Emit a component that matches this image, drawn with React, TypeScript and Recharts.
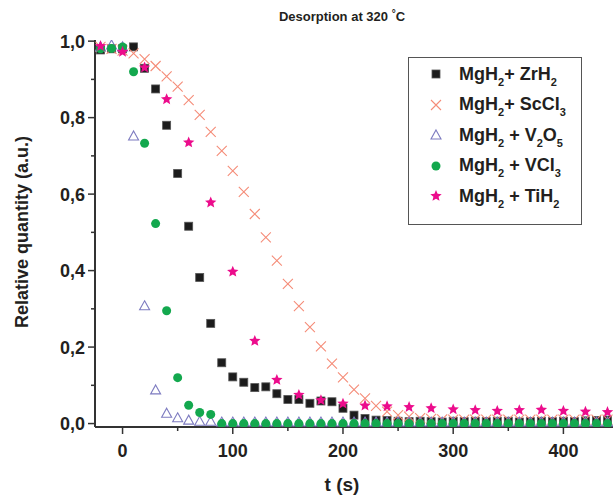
import React from 'react';
import { ScatterChart, Scatter, XAxis, YAxis, Legend } from 'recharts';

// desorption curves, relative quantity vs time (s)
const zrTimes = [-20, -10, 0, 10, 20, 30, 40, 50, 60, 70, 80, 90, 100, 110, 120, 130, 140, 150, 160, 170, 180, 190, 200, 210, 220, 230, 240, 250, 260, 270, 280, 290, 300, 310, 320, 330, 340, 350, 360, 370, 380, 390, 400, 410, 420, 430, 440];
const zrValues = [0.977, 0.98, 0.98, 0.985, 0.929, 0.875, 0.78, 0.654, 0.516, 0.382, 0.262, 0.159, 0.122, 0.108, 0.094, 0.096, 0.078, 0.063, 0.063, 0.053, 0.059, 0.057, 0.04, 0.022, 0.013, 0.009, 0.008, 0.006, 0.005, 0.006, 0.005, 0.004, 0.006, 0.005, 0.006, 0.005, 0.006, 0.006, 0.004, 0.005, 0.006, 0.005, 0.006, 0.005, 0.007, 0.008, 0.009];

const scTimes = [-20, -10, 0, 10, 20, 30, 40, 50, 60, 70, 80, 90, 100, 110, 120, 130, 140, 150, 160, 170, 180, 190, 200, 210, 220, 230, 240, 250, 260, 270, 280, 290, 300, 310, 320, 330, 340, 350, 360, 370, 380, 390, 400, 410, 420, 430, 440];
const scValues = [0.985, 0.98, 0.975, 0.968, 0.953, 0.935, 0.908, 0.881, 0.846, 0.807, 0.763, 0.713, 0.661, 0.606, 0.548, 0.487, 0.426, 0.365, 0.307, 0.252, 0.202, 0.157, 0.121, 0.089, 0.066, 0.046, 0.031, 0.022, 0.018, 0.014, 0.012, 0.011, 0.01, 0.01, 0.01, 0.01, 0.01, 0.01, 0.01, 0.01, 0.01, 0.01, 0.01, 0.01, 0.01, 0.01, 0.01];

const voTimes = [-20, -10, 0, 10, 20, 30, 40, 50, 60, 70, 80, 90, 100, 110, 120, 130, 140, 150, 160, 170, 180, 190, 200, 210, 220, 230, 240, 250, 260, 270, 280, 290, 300, 310, 320, 330, 340, 350, 360, 370, 380, 390, 400, 410, 420, 430, 440];
const voValues = [0.985, 0.99, 0.985, 0.752, 0.308, 0.088, 0.027, 0.015, 0.009, 0.006, 0.006, 0.004, 0.004, 0.004, 0.004, 0.004, 0.004, 0.004, 0.004, 0.004, 0.004, 0.004, 0.004, 0.004, 0.004, 0.004, 0.004, 0.004, 0.004, 0.004, 0.004, 0.004, 0.004, 0.004, 0.004, 0.004, 0.004, 0.004, 0.004, 0.004, 0.004, 0.004, 0.004, 0.004, 0.004, 0.004, 0.004];

const vcTimes = [-20, -10, 0, 10, 20, 30, 40, 50, 60, 70, 80, 90, 100, 110, 120, 130, 140, 150, 160, 170, 180, 190, 200, 210, 220, 230, 240, 250, 260, 270, 280, 290, 300, 310, 320, 330, 340, 350, 360, 370, 380, 390, 400, 410, 420, 430, 440];
const vcValues = [0.98, 0.981, 0.985, 0.92, 0.733, 0.523, 0.295, 0.12, 0.048, 0.029, 0.024, 0, 0, 0, 0, 0, 0, 0, 0, 0, 0, 0, 0, 0, 0, 0, 0, 0, 0, 0, 0, 0, 0, 0, 0, 0, 0, 0, 0, 0, 0, 0, 0, 0, 0, 0, 0];

const tiTimes = [-20, 0, 20, 40, 60, 80, 100, 120, 140, 160, 180, 200, 220, 240, 260, 280, 300, 320, 340, 360, 380, 400, 420, 440];
const tiValues = [0.987, 0.972, 0.931, 0.848, 0.735, 0.578, 0.397, 0.216, 0.114, 0.075, 0.061, 0.052, 0.047, 0.045, 0.043, 0.04, 0.037, 0.035, 0.033, 0.035, 0.036, 0.033, 0.031, 0.03];

const xTicks = [0, 50, 100, 150, 200, 250, 300, 350, 400];
const xMajor = [0, 100, 200, 300, 400];
const yTicks = [0, 0.1, 0.2, 0.3, 0.4, 0.5, 0.6, 0.7, 0.8, 0.9, 1.0];
const yMajor = [0, 0.2, 0.4, 0.6, 0.8, 1.0];

const W = 613;
const H = 498;
const MARGIN = { top: 40, right: 0, left: 35, bottom: 31 };
const Y_WIDTH = 60;
const X_HEIGHT = 40;
const AXIS_X = MARGIN.left + Y_WIDTH;
const AXIS_Y = H - MARGIN.bottom - X_HEIGHT;
const INK = '#231f20';
const FONT = '"Liberation Sans", Arial, sans-serif';

const toPoints = (ts: number[], vs: number[]) => ts.map((t, i) => ({ t, v: vs[i] }));

const Square = (p: any) => (
  <rect x={p.cx - 4} y={p.cy - 4} width={8} height={8} fill="#1c1c1c" stroke="#555" strokeWidth={0.8} />
);
const Cross = (p: any) => (
  <path d={`M${p.cx - 5},${p.cy - 5}L${p.cx + 5},${p.cy + 5}M${p.cx - 5},${p.cy + 5}L${p.cx + 5},${p.cy - 5}`} stroke="#f58c78" strokeWidth={1.1} fill="none" />
);
const Triangle = (p: any) => (
  <path d={`M${p.cx},${p.cy - 5}L${p.cx + 5},${p.cy + 4}L${p.cx - 5},${p.cy + 4}Z`} stroke="#7d7bc0" strokeWidth={1.1} fill="none" />
);
const Dot = (p: any) => <circle cx={p.cx} cy={p.cy} r={4.5} fill="#13a84e" />;
const starPath = (cx: number, cy: number, r: number) => {
  let d = '';
  for (let i = 0; i < 10; i++) {
    const rr = i % 2 === 0 ? r : r * 0.45;
    const a = -Math.PI / 2 + (i * Math.PI) / 5;
    d += `${i === 0 ? 'M' : 'L'}${cx + rr * Math.cos(a)},${cy + rr * Math.sin(a)}`;
  }
  return d + 'Z';
};
const Star = (p: any) => <path d={starPath(p.cx, p.cy, 6)} fill="#ec0c8c" />;

const series = [
  { name: 'zr', label: ['MgH', '2', '+ ZrH', '2'], shape: Square, data: toPoints(zrTimes, zrValues) },
  { name: 'sc', label: ['MgH', '2', '+ ScCl', '3'], shape: Cross, data: toPoints(scTimes, scValues) },
  { name: 'vo', label: ['MgH', '2', ' + V', '2', 'O', '5'], shape: Triangle, data: toPoints(voTimes, voValues) },
  { name: 'vc', label: ['MgH', '2', ' + VCl', '3'], shape: Dot, data: toPoints(vcTimes, vcValues) },
  { name: 'ti', label: ['MgH', '2', ' + TiH', '2'], shape: Star, data: toPoints(tiTimes, tiValues) },
];

const XTick = (props: any) => {
  const { x, payload } = props;
  const major = xMajor.includes(payload.value);
  return (
    <g>
      <line x1={x} x2={x} y1={AXIS_Y} y2={AXIS_Y + (major ? 7 : 4)} stroke="#333" strokeWidth={1.5} />
      {major && (
        <text x={x} y={AXIS_Y + 30} textAnchor="middle" fontSize={18} fontWeight="bold" fill={INK} fontFamily={FONT}>
          {payload.value}
        </text>
      )}
    </g>
  );
};

const YTick = (props: any) => {
  const { y, payload } = props;
  const major = yMajor.some((m) => Math.abs(m - payload.value) < 1e-6);
  return (
    <g>
      <line x1={AXIS_X} x2={AXIS_X - (major ? 7 : 4)} y1={y} y2={y} stroke="#333" strokeWidth={1.5} />
      {major && (
        <text x={AXIS_X - 10} y={y + 6.5} textAnchor="end" fontSize={18} fontWeight="bold" fill={INK} fontFamily={FONT}>
          {payload.value.toFixed(1).replace('.', ',')}
        </text>
      )}
    </g>
  );
};

const Label = ({ parts }: { parts: string[] }) => (
  <span>
    {parts.map((s, i) =>
      i % 2 === 1 ? (
        <span key={i} style={{ fontSize: 11, position: 'relative', top: 6 }}>{s}</span>
      ) : (
        <span key={i}>{s}</span>
      )
    )}
  </span>
);

const LegendBox = () => (
  <div
    style={{
      width: 174,
      height: 168,
      boxSizing: 'border-box',
      border: '1.5px solid #555',
      paddingTop: 1,
      fontFamily: FONT,
      fontWeight: 'bold',
      fontSize: 18,
      color: INK,
      background: '#fff',
    }}
  >
    {series.map((s) => {
      const Shape = s.shape;
      return (
        <div key={s.name} style={{ display: 'flex', alignItems: 'center', height: 30.5 }}>
          <svg width={50} height={20} style={{ flex: 'none' }}>
            <Shape cx={27} cy={10} />
          </svg>
          <Label parts={s.label} />
        </div>
      );
    })}
  </div>
);

export default function App() {
  return (
    <div style={{ position: 'absolute', left: 0, top: 0, width: W, height: H, background: '#fff', overflow: 'hidden' }}>
      <ScatterChart width={W} height={H} margin={MARGIN}>
        <XAxis
          dataKey="t"
          type="number"
          domain={[-25, 445]}
          ticks={xTicks}
          height={X_HEIGHT}
          axisLine={{ stroke: '#333', strokeWidth: 2 }}
          tickLine={false}
          tick={<XTick />}
          interval={0}
          allowDataOverflow
        />
        <XAxis
          xAxisId="top"
          orientation="top"
          type="number"
          domain={[-25, 445]}
          height={0}
          axisLine={{ stroke: '#333', strokeWidth: 2 }}
          tick={false}
          tickLine={false}
        />
        <YAxis
          dataKey="v"
          type="number"
          domain={[-0.009, 1.003]}
          ticks={yTicks}
          width={Y_WIDTH}
          axisLine={{ stroke: '#333', strokeWidth: 2 }}
          tickLine={false}
          tick={<YTick />}
          interval={0}
          allowDataOverflow
        />
        <Legend
          layout="vertical"
          align="center"
          verticalAlign="middle"
          content={<LegendBox />}
          wrapperStyle={{ left: 408, top: 57, width: 174 }}
        />
        {series.map((s) => (
          <Scatter key={s.name} name={s.name} data={s.data} shape={s.shape} isAnimationActive={false} />
        ))}
      </ScatterChart>
      <div style={{ position: 'absolute', left: 0, width: 684, top: 9, textAlign: 'center', fontFamily: FONT, fontWeight: 'bold', fontSize: 13, color: INK }}>
        Desorption at 320 <span style={{ position: 'relative', top: -4, fontSize: 10 }}>°</span>C
      </div>
      <div style={{ position: 'absolute', left: 0, width: 684, top: 474, textAlign: 'center', fontFamily: FONT, fontWeight: 'bold', fontSize: 19, color: INK }}>
        t (s)
      </div>
      <div
        style={{
          position: 'absolute',
          left: 22,
          top: 232,
          transform: 'translate(-50%, -50%) rotate(-90deg)',
          whiteSpace: 'nowrap',
          fontFamily: FONT,
          fontWeight: 'bold',
          fontSize: 18,
          color: INK,
        }}
      >
        Relative quantity (a.u.)
      </div>
    </div>
  );
}
